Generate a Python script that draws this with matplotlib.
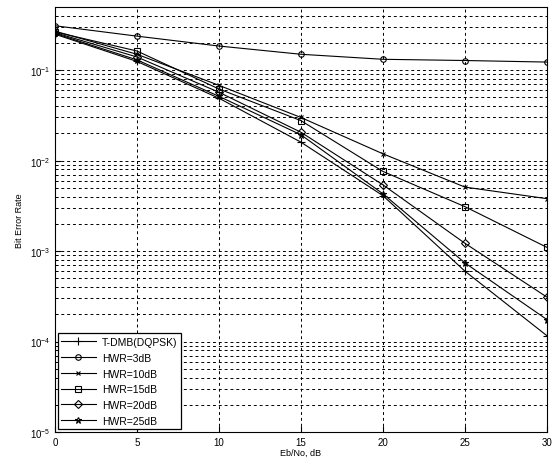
import matplotlib
matplotlib.use("Agg")
import matplotlib.pyplot as plt
from matplotlib.ticker import LogLocator, NullFormatter

plt.rcParams['font.family'] = ['Liberation Sans', 'DejaVu Sans']

ebno = [0, 5, 10, 15, 20, 25, 30]
tdmb = [0.25, 0.125, 0.049, 0.016, 0.0041, 0.0006, 0.000116]
hwr3 = [0.31, 0.238, 0.185, 0.15, 0.132, 0.128, 0.123]
hwr10 = [0.27, 0.15, 0.068, 0.030, 0.0119, 0.0051, 0.0038]
hwr15 = [0.265, 0.163, 0.062, 0.0277, 0.0076, 0.0031, 0.0011]
hwr20 = [0.26, 0.14, 0.057, 0.0206, 0.0054, 0.00122, 0.00031]
hwr25 = [0.255, 0.13, 0.0514, 0.0193, 0.0043, 0.00074, 0.000175]

labels = ['T-DMB(DQPSK)', 'HWR=3dB', 'HWR=10dB', 'HWR=15dB', 'HWR=20dB', 'HWR=25dB']
series = [tdmb, hwr3, hwr10, hwr15, hwr20, hwr25]
markers = ['+', 'o', 'x', 's', 'D', '*']
msizes = [6, 4, 3, 5, 4, 5]

fig = plt.figure(figsize=(5.59, 4.64), dpi=100)
ax = fig.add_axes([0.0984, 0.0668, 0.88, 0.916])

for y, lab, m, ms in zip(series, labels, markers, msizes):
    ax.semilogy(ebno, y, color='black', linewidth=0.8, marker=m, markersize=ms,
                markerfacecolor='none', markeredgecolor='black', markeredgewidth=0.8,
                label=lab)

ax.set_xlim(0, 30)
ax.set_ylim(1e-5, 0.5)
ax.set_xticks([0, 5, 10, 15, 20, 25, 30])
ax.yaxis.set_major_locator(LogLocator(base=10, numticks=10))
ax.yaxis.set_minor_locator(LogLocator(base=10, subs=range(2, 10), numticks=20))
ax.yaxis.set_minor_formatter(NullFormatter())

ax.grid(True, which='major', axis='both', color='black', linestyle=(0, (3, 3)), linewidth=0.7)
ax.grid(True, which='minor', axis='y', color='black', linestyle=(0, (3, 3)), linewidth=0.7)

ax.tick_params(which='both', direction='in', labelsize=7, top=False, right=False)
ax.tick_params(which='major', length=4)
ax.tick_params(which='minor', length=2)
for s in ax.spines.values():
    s.set_linewidth(0.8)

ax.set_xlabel('Eb/No, dB', fontsize=6.5, labelpad=1)
ax.set_ylabel('Bit Error Rate', fontsize=6.5, labelpad=4)

leg = ax.legend(loc='lower left', fontsize=7.5, frameon=True, fancybox=False,
                edgecolor='black', framealpha=1, handlelength=3.3,
                borderpad=0.35, labelspacing=0.55, handletextpad=0.6,
                borderaxespad=0.25)
leg.get_frame().set_linewidth(0.9)

fig.savefig('out.png', dpi=100)
